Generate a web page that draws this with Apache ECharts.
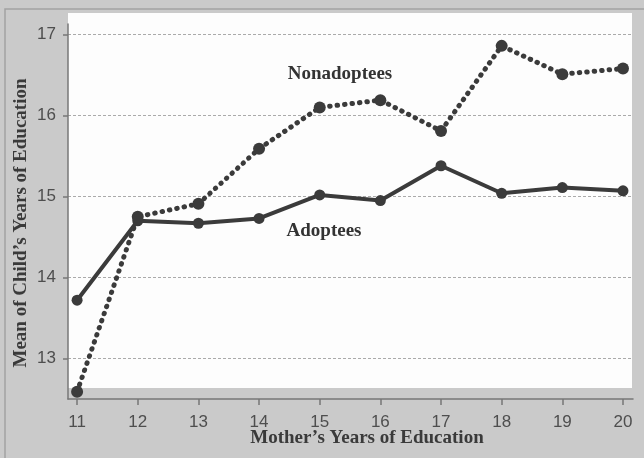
<!DOCTYPE html>
<html>
<head>
<meta charset="utf-8">
<script src="https://cdn.jsdelivr.net/npm/echarts@6/dist/echarts.min.js"></script>
<style>
html,body{margin:0;padding:0;background:#cacaca;}
#c{width:644px;height:458px;}
</style>
</head>
<body>
<div id="c"></div>
<script>
const motherYears = [11, 12, 13, 14, 15, 16, 17, 18, 19, 20];
const adoptees = [13.72, 14.70, 14.67, 14.73, 15.02, 14.95, 15.38, 15.04, 15.11, 15.07];
const nonadoptees = [12.59, 14.75, 14.91, 15.59, 16.10, 16.19, 15.81, 16.86, 16.51, 16.58];
const yTicks = [13, 14, 15, 16, 17];
const xTicks = [11, 12, 13, 14, 15, 16, 17, 18, 19, 20];

const chart = echarts.init(document.getElementById('c'), null, {renderer: 'canvas'});
const dark = '#3b3b3b';
const serif = '"Liberation Serif", "Times New Roman", serif';
const sans = '"Liberation Sans", Arial, sans-serif';

chart.setOption({
  backgroundColor: '#cacaca',
  animation: false,
  grid: {left: 68, right: 11, top: 24, bottom: 59, containLabel: false},
  graphic: [
    {type: 'rect', z: -10, silent: true, shape: {x: 5, y: 9, width: 660, height: 470},
     style: {fill: '#cacaca', stroke: '#a2a2a2', lineWidth: 1.5}},
    {type: 'rect', z: -9, silent: true, shape: {x: 68, y: 13, width: 564, height: 375},
     style: {fill: '#fdfdfd'}},
    {type: 'text', z: 10, silent: true, x: 340, y: 74,
     style: {text: 'Nonadoptees', font: 'bold 19px ' + serif, fill: '#333', align: 'center', verticalAlign: 'middle'}},
    {type: 'text', z: 10, silent: true, x: 324, y: 231,
     style: {text: 'Adoptees', font: 'bold 19px ' + serif, fill: '#333', align: 'center', verticalAlign: 'middle'}},
    {type: 'text', z: 10, silent: true, x: 367, y: 438,
     style: {text: 'Mother\u2019s Years of Education', font: 'bold 19px ' + serif, fill: '#3a3a3a', align: 'center', verticalAlign: 'middle'}},
    {type: 'text', z: 10, silent: true, x: 21, y: 223, rotation: Math.PI / 2,
     style: {text: 'Mean of Child\u2019s Years of Education', font: 'bold 19px ' + serif, fill: '#3a3a3a', align: 'center', verticalAlign: 'middle'}}
  ],
  xAxis: {
    type: 'value', min: 10.85, max: 20.165,
    axisLine: {show: true, lineStyle: {color: '#777', width: 1.5}},
    axisTick: {show: true, customValues: xTicks, length: 6, lineStyle: {color: '#777', width: 1.5}},
    axisLabel: {customValues: xTicks, fontSize: 17, color: '#4e4e4e', fontFamily: sans, margin: 15},
    splitLine: {show: false}
  },
  yAxis: {
    type: 'value', min: 12.5, max: 17.13,
    axisLine: {show: true, lineStyle: {color: '#777', width: 1.5}},
    axisTick: {show: true, customValues: yTicks, length: 5, lineStyle: {color: '#777', width: 1.5}},
    axisLabel: {customValues: yTicks, fontSize: 17, color: '#4e4e4e', fontFamily: sans, margin: 12},
    splitLine: {show: true, lineStyle: {color: '#aaa', type: [3, 2], width: 1}}
  },
  series: [
    {
      name: 'Adoptees', type: 'line',
      data: motherYears.map((x, i) => [x, adoptees[i]]),
      symbol: 'circle', symbolSize: 11,
      itemStyle: {color: dark},
      lineStyle: {color: dark, width: 4}
    },
    {
      name: 'Nonadoptees', type: 'line',
      data: motherYears.map((x, i) => [x, nonadoptees[i]]),
      symbol: 'circle', symbolSize: 12,
      itemStyle: {color: dark},
      lineStyle: {color: dark, width: 5, type: [0.5, 7], cap: 'round'}
    }
  ]
});
</script>
</body>
</html>
